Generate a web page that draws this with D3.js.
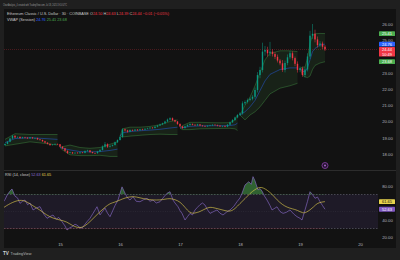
<!DOCTYPE html>
<html>
<head>
<meta charset="utf-8">
<script src="https://cdn.jsdelivr.net/npm/d3@7"></script>
<style>
  body { margin: 0; background: #1e1e1e; }
  svg { display: block; }
  text { font-family: "Liberation Sans", Arial, sans-serif; }
</style>
</head>
<body>
<svg id="chart" width="400" height="260"></svg>
<script>
// ---- data ----
// hourly candles, first one closes at Jul 14 02:00 UTC
var candleStartHour = 2;
var firstOpen = 18.55;
var closes = [
  18.62,18.75,18.95,19.12,19.02,19.05,18.98,19.03,19.00,18.96,19.02,18.97,18.98,18.90,18.86,18.78,18.70,18.62,18.55,18.58,18.62,18.60,
  18.45,18.35,18.20,18.06,18.10,18.04,18.08,18.05,18.10,18.07,18.18,18.22,18.12,18.06,18.05,18.15,18.25,18.45,18.60,18.45,18.50,18.55,18.72,18.86,
  19.05,19.52,19.45,19.37,19.48,19.44,19.50,19.46,19.52,19.50,19.55,19.58,19.62,19.60,19.68,19.75,19.82,19.89,20.00,20.12,20.20,20.08,20.00,19.85,
  19.70,19.60,19.70,19.78,19.85,19.80,19.76,19.82,19.75,19.72,19.70,19.74,19.76,19.80,19.78,19.74,19.70,19.72,19.68,19.80,19.95,20.09,20.25,20.40,
  20.50,21.12,21.20,21.32,21.40,21.52,21.94,22.86,23.17,24.30,24.40,24.20,24.30,24.15,23.98,23.75,23.58,23.17,23.60,23.95,24.20,23.90,23.55,23.17,
  23.27,22.86,23.20,24.00,25.28,25.40,25.05,24.70,24.80,24.60,24.44
];
// wick lengths in cents above / below the body
var wickUp = [
  3,4,5,6,4,3,4,3,3,4,3,2,3,3,2,3,3,2,4,3,3,2,
  2,3,3,2,4,3,2,3,3,2,5,4,3,2,3,4,5,8,14,6,4,3,5,4,
  4,6,5,4,3,3,4,3,3,4,3,4,3,4,3,4,5,4,5,6,6,5,4,3,
  4,3,4,5,4,3,3,4,3,3,4,3,4,3,3,3,4,3,4,5,5,6,5,6,
  8,12,10,9,8,10,15,18,20,55,25,20,60,15,12,14,10,20,15,18,14,12,10,15,
  12,10,15,20,30,60,25,18,15,12,10
];
var wickDown = [
  4,3,3,4,5,3,4,3,4,3,3,4,3,3,4,3,4,3,5,3,3,4,
  4,5,5,6,3,4,3,3,4,3,3,4,5,3,4,3,3,4,5,8,5,4,3,3,
  3,5,8,6,4,4,3,4,3,4,3,3,3,4,3,4,3,4,4,3,5,6,5,6,
  5,6,4,3,4,4,3,3,4,4,3,3,3,4,3,4,4,5,3,3,3,4,4,5,
  6,8,10,9,8,10,12,15,20,15,25,20,18,15,14,12,12,12,15,14,12,14,15,16,
  14,11,15,12,15,20,18,15,12,14,10
];

// session VWAP and its band, hours since Jul 14 00:00 UTC
var vwapHour = [2,6,12,18,23, 24,25,28,32,36,40,44,47, 48,49,52,56,60,64,68,71,
  72,73,76,80,84,88,92,94,95, 96,98,100,102,104,106,108,112,116,119, 120,121,122,123,124,125,126,128,130];
var vwapMid = [18.7,18.95,19.0,18.95,18.9, 18.4,18.35,18.25,18.15,18.13,18.15,18.22,18.3,
  19.1,19.3,19.38,19.43,19.47,19.52,19.6,19.65, 19.6,19.62,19.7,19.73,19.74,19.74,19.75,19.8,19.9,
  20.4,20.6,20.9,21.3,21.9,22.5,22.9,23.2,23.3,23.3, 23.27,23.1,23.05,23.3,23.8,24.3,24.5,24.7,24.76];
var vwapUpper = [18.9,19.25,19.2,19.2,19.2, 18.4,18.45,18.55,18.4,18.35,18.4,18.6,18.75,
  19.1,19.55,19.65,19.65,19.7,19.8,20.0,20.1, 19.6,19.75,19.95,19.95,19.93,19.92,19.93,20.1,20.4,
  20.4,21.0,21.5,22.2,23.0,23.8,24.2,24.35,24.35,24.3, 23.27,23.35,23.35,23.9,24.8,25.3,25.4,25.42,25.41];
var vwapLower = [18.5,18.6,18.75,18.65,18.55, 18.4,18.25,17.95,17.9,17.9,17.92,17.85,17.85,
  19.1,19.05,19.1,19.15,19.2,19.22,19.2,19.2, 19.6,19.5,19.5,19.55,19.56,19.57,19.58,19.55,19.45,
  20.4,20.1,20.4,20.6,20.9,21.3,21.7,22.05,22.2,22.35, 23.27,22.85,22.75,22.7,22.8,23.2,23.45,23.6,23.68];

// RSI(14) and its moving average, [hour, value]
var rsiPoints = [[1,60],[2,64],[3,70],[4,74],[4.8,76.5],[6,68],[7,66],[8,59.6],[9,62],[10,63.5],[11,58],[12,60],
  [13.2,51.8],[14.5,54],[16,55.7],[17.5,47],[18.8,42],[20,44],[21.2,45.9],[22.5,41],[23.5,43],[24.8,38],[26,33],
  [26.8,28.2],[28,31],[28.8,32],[30,35],[30.8,34],[32,31],[32.8,30.6],[34,35],[34.8,38],[36,42],[37.2,47.8],
  [38.8,55.6],[40,46],[41,50],[42,54],[43,48],[44,43.9],[45.2,51.7],[46,57],[47.2,63.5],[48.8,79],[50,71.6],
  [51,66],[52,63.5],[53.2,67.4],[54.5,62],[56,61.5],[57.5,64],[58.8,65.5],[60,62],[61.2,63.5],[62.5,60],[64,61.5],
  [65.5,67],[66.8,71.4],[68,73.3],[69.2,63.5],[70,60],[71.2,55.6],[72,51],[72.8,47.8],[74,40],[75,44],[76,47.8],
  [77,46],[78,51.8],[79,55],[80,58],[81,60],[82,57.6],[83,52],[84,47.8],[85.5,50],[86.8,51.8],[88,48],[89.2,45.9],
  [90.5,49],[92,51.8],[93.5,56],[94.8,61.5],[96,66],[96.8,71.4],[98,81.2],[99.5,85],[100.5,82],[101.2,91],[102,86],
  [103.2,75.3],[104,77],[104.8,74],[105.8,68],[106.8,63.5],[108,57],[108.8,51.8],[110,54],[110.8,55.5],[112,50],
  [113.2,47.8],[114.5,49],[116,51.8],[117.5,47],[118.8,43.9],[120,42],[120.8,40],[122,51.8],[123,62],[124,73.3],
  [125,70],[126,65.5],[127,67],[128,61.5],[129,57],[130,52.63]];
var rsiSmaPoints = [[1,53.7],[4,59.6],[8,64.3],[10.8,61.5],[13,57],[16,51.8],[18.5,46],[21.2,42],[24,40],[26.8,38],
  [29,33],[32,30.2],[34,33],[36,38],[38,44],[40,49.8],[42,55],[44,59.6],[46,61],[48,63.5],[50,66],[53.2,68.2],
  [56,66],[58.8,64.3],[61,63.5],[64,63.5],[66,64.5],[68,65.5],[70,64],[72,61.5],[74,55],[76,47.8],[78,48],[80,49.8],
  [82,53],[84,55.6],[86,54],[88,52.6],[90,51],[92,49.8],[94,53],[96,59.6],[98,65],[100,71.4],[102,76],[104,79],
  [105.5,77.5],[106.8,75.3],[109,70],[110.8,63.5],[113,58],[114.8,55],[117,53],[118.8,51.8],[121.2,47.8],[122.5,49],
  [124,51.8],[125.5,55.5],[126.8,59.6],[128.5,61],[130,61.65]];

var priceTicks = [18, 19, 20, 21, 22, 23, 25, 26];
var rsiTicks = [20, 40, 80];
var dayTicks = [15, 16, 17, 18, 19, 20];
var legendTitle = "Ethereum Classic / U.S. Dollar · 30 · COINBASE";
var ohlcLabels = ["O", "H", "L", "C"];
var ohlcValues = ["24.50", "24.63", "24.39", "24.44"];
var changeText = "−0.01 (−0.05%)";
var countdown = "10:49";

// ---- layout ----
var plotLeft = 4, plotRight = 378, mainTop = 9, mainBottom = 170, rsiBottom = 241;
var t0 = Date.UTC(2025, 6, 14);
function hourToDate(h) { return new Date(t0 + h * 3600e3); }

var x = d3.scaleUtc().domain([hourToDate(0), hourToDate(144)]).range([0, 360]);
var y = d3.scaleLinear().domain([18, 26]).range([154, 24]);
var yr = d3.scaleLinear().domain([20, 80]).range([237, 186]);

var up = "#089981", down = "#f23645";
var svg = d3.select("#chart");

// frame + panel
svg.append("rect").attr("width", 400).attr("height", 260).attr("fill", "#1f1f1f");
svg.append("rect").attr("x", plotLeft).attr("y", mainTop).attr("width", 392).attr("height", 239).attr("fill", "#121212");

var defs = svg.append("defs");
defs.append("clipPath").attr("id", "clipMain").append("rect")
  .attr("x", plotLeft).attr("y", mainTop).attr("width", plotRight - plotLeft).attr("height", mainBottom - mainTop);
defs.append("clipPath").attr("id", "clipRsi").append("rect")
  .attr("x", plotLeft).attr("y", mainBottom).attr("width", plotRight - plotLeft).attr("height", rsiBottom - mainBottom);
defs.append("clipPath").attr("id", "clipOver").append("rect")
  .attr("x", plotLeft).attr("y", mainBottom).attr("width", plotRight - plotLeft).attr("height", yr(70) - mainBottom);
defs.append("clipPath").attr("id", "clipUnder").append("rect")
  .attr("x", plotLeft).attr("y", yr(30)).attr("width", plotRight - plotLeft).attr("height", rsiBottom - yr(30));

// header text
svg.append("text").attr("x", 3).attr("y", 5.5).attr("font-size", 3).attr("fill", "#9a9a9a")
  .attr("textLength", 64).attr("lengthAdjust", "spacingAndGlyphs")
  .text("ChartAnalysis_4 created with TradingView.com, Jul 18, 2025 19:10 UTC");

// ---- main pane ----
var main = svg.append("g").attr("clip-path", "url(#clipMain)");

// vwap band per session
var bandPts = vwapHour.map(function (h, i) {
  return {h: h, s: Math.floor(h / 24), mid: vwapMid[i], hi: vwapUpper[i], lo: vwapLower[i]};
});
var sessions = d3.groups(bandPts, function (d) { return d.s; });

var bandArea = d3.area()
  .x(function (d) { return x(hourToDate(d.h)); })
  .y0(function (d) { return y(d.lo); })
  .y1(function (d) { return y(d.hi); });
function bandLine(key) {
  return d3.line().x(function (d) { return x(hourToDate(d.h)); }).y(function (d) { return y(d[key]); });
}

sessions.forEach(function (s) {
  var pts = s[1];
  main.append("path").attr("d", bandArea(pts)).attr("fill", "rgba(76,175,80,0.1)");
  main.append("path").attr("d", bandLine("hi")(pts)).attr("fill", "none").attr("stroke", "#4caf50").attr("stroke-width", 0.5).attr("stroke-opacity", 0.7);
  main.append("path").attr("d", bandLine("lo")(pts)).attr("fill", "none").attr("stroke", "#4caf50").attr("stroke-width", 0.5).attr("stroke-opacity", 0.7);
  main.append("path").attr("d", bandLine("mid")(pts)).attr("fill", "none").attr("stroke", "#2962ff").attr("stroke-width", 0.5).attr("stroke-opacity", 0.85);
});

// price line
var lastClose = closes[closes.length - 1];
main.append("line").attr("x1", plotLeft).attr("x2", plotRight).attr("y1", y(lastClose)).attr("y2", y(lastClose))
  .attr("stroke", down).attr("stroke-width", 0.5).attr("stroke-dasharray", "1,1").attr("opacity", 0.6);

// candles
var candles = closes.map(function (c, i) {
  var o = i == 0 ? firstOpen : closes[i - 1];
  return {h: candleStartHour + i, o: o, c: c,
    hi: Math.max(o, c) + wickUp[i] / 100, lo: Math.min(o, c) - wickDown[i] / 100};
});
var cg = main.selectAll("g.candle").data(candles).enter().append("g").attr("class", "candle");
cg.append("line")
  .attr("x1", function (d) { return x(hourToDate(d.h)); })
  .attr("x2", function (d) { return x(hourToDate(d.h)); })
  .attr("y1", function (d) { return y(d.hi); })
  .attr("y2", function (d) { return y(d.lo); })
  .attr("stroke", function (d) { return d.c >= d.o ? up : down; })
  .attr("stroke-width", 0.5);
cg.append("rect")
  .attr("x", function (d) { return x(hourToDate(d.h)) - 0.7; })
  .attr("width", 1.4)
  .attr("y", function (d) { return y(Math.max(d.o, d.c)); })
  .attr("height", function (d) { return Math.max(0.5, Math.abs(y(d.o) - y(d.c))); })
  .attr("fill", function (d) { return d.c >= d.o ? up : down; });

// events marker
svg.append("circle").attr("cx", 325).attr("cy", 165.5).attr("r", 3)
  .attr("fill", "#21132b").attr("stroke", "#8e44ad").attr("stroke-width", 0.8);
svg.append("circle").attr("cx", 325).attr("cy", 165.5).attr("r", 1)
  .attr("fill", "#a760c9");

// legend
var leg = svg.append("text").attr("x", 7).attr("y", 15).attr("font-size", 3.8).attr("fill", "#c9c9c9");
leg.append("tspan").text(legendTitle + "  ");
ohlcLabels.forEach(function (l, i) {
  leg.append("tspan").attr("fill", "#c9c9c9").text(l);
  leg.append("tspan").attr("fill", down).text(ohlcValues[i] + " ");
});
leg.append("tspan").attr("fill", down).text(changeText);

var leg2 = svg.append("text").attr("x", 7).attr("y", 20.5).attr("font-size", 3.8).attr("fill", "#c9c9c9");
leg2.append("tspan").text("VWAP (Session)  ");
leg2.append("tspan").attr("fill", "#2962ff").text(vwapMid[vwapMid.length - 1].toFixed(2) + "  ");
leg2.append("tspan").attr("fill", "#4caf50").text(vwapUpper[vwapUpper.length - 1].toFixed(2) + "  ");
leg2.append("tspan").attr("fill", "#4caf50").text(vwapLower[vwapLower.length - 1].toFixed(2));

// price axis
var yAxis = svg.append("g").attr("transform", "translate(" + plotRight + ",0)")
  .call(d3.axisRight(y).tickValues(priceTicks).tickFormat(d3.format(".2f")).tickSize(0));
yAxis.select(".domain").remove();
yAxis.selectAll("text").attr("x", 9.5).attr("text-anchor", "middle").attr("font-size", 4.2)
  .attr("fill", "#b2b5be").attr("font-family", "Liberation Sans, Arial, sans-serif");

function tag(val, yy, bg, fg, sub) {
  var h = sub ? 9.6 : 4.8;
  svg.append("rect").attr("x", 379).attr("y", yy - 2.4).attr("width", 16).attr("height", h).attr("rx", 0.6).attr("fill", bg);
  svg.append("text").attr("x", 387).attr("y", yy + 1.5).attr("text-anchor", "middle").attr("font-size", 4).attr("fill", fg).text(val);
  if (sub) svg.append("text").attr("x", 387).attr("y", yy + 6.3).attr("text-anchor", "middle").attr("font-size", 4).attr("fill", fg).text(sub);
}
tag(vwapUpper[vwapUpper.length - 1].toFixed(2), y(vwapUpper[vwapUpper.length - 1]), "#4caf50", "#ffffff");
tag(vwapMid[vwapMid.length - 1].toFixed(2), y(vwapMid[vwapMid.length - 1]), "#2962ff", "#ffffff");
tag(lastClose.toFixed(2), y(lastClose), down, "#ffffff", countdown);
tag(vwapLower[vwapLower.length - 1].toFixed(2), y(vwapLower[vwapLower.length - 1]), "#4caf50", "#ffffff");

// pane separator
svg.append("line").attr("x1", plotLeft).attr("x2", 396).attr("y1", mainBottom + 0.5).attr("y2", mainBottom + 0.5)
  .attr("stroke", "#2c2c2c").attr("stroke-width", 1);

// ---- RSI pane ----
var rg = svg.append("g").attr("clip-path", "url(#clipRsi)");
rg.append("rect").attr("x", plotLeft).attr("width", plotRight - plotLeft + 2)
  .attr("y", yr(70)).attr("height", yr(30) - yr(70)).attr("fill", "rgba(126,87,194,0.12)");
[70, 30].forEach(function (v) {
  rg.append("line").attr("x1", plotLeft).attr("x2", plotRight + 2).attr("y1", yr(v)).attr("y2", yr(v))
    .attr("stroke", "#787b86").attr("stroke-width", 0.5).attr("stroke-dasharray", "1.5,1.5");
});
rg.append("line").attr("x1", plotLeft).attr("x2", plotRight + 2).attr("y1", yr(50)).attr("y2", yr(50))
  .attr("stroke", "#787b86").attr("stroke-width", 0.4).attr("stroke-dasharray", "0.8,1.5").attr("opacity", 0.4);

var rx = function (d) { return x(hourToDate(d[0])); };
rg.append("path").attr("clip-path", "url(#clipOver)")
  .attr("d", d3.area().x(rx).y0(yr(70)).y1(function (d) { return yr(d[1]); })(rsiPoints))
  .attr("fill", "rgba(76,175,80,0.5)");
rg.append("path").attr("clip-path", "url(#clipUnder)")
  .attr("d", d3.area().x(rx).y0(yr(30)).y1(function (d) { return yr(d[1]); })(rsiPoints))
  .attr("fill", "rgba(242,54,69,0.5)");
rg.append("path").attr("d", d3.line().x(rx).y(function (d) { return yr(d[1]); })(rsiPoints))
  .attr("fill", "none").attr("stroke", "#8e6fd1").attr("stroke-width", 0.6);
rg.append("path").attr("d", d3.line().curve(d3.curveBasis).x(rx).y(function (d) { return yr(d[1]); })(rsiSmaPoints))
  .attr("fill", "none").attr("stroke", "#e8d44d").attr("stroke-width", 0.6);

var rsiLast = rsiPoints[rsiPoints.length - 1][1], smaLast = rsiSmaPoints[rsiSmaPoints.length - 1][1];
var rleg = svg.append("text").attr("x", 5).attr("y", 176).attr("font-size", 3.8).attr("fill", "#c9c9c9");
rleg.append("tspan").text("RSI (14, close)  ");
rleg.append("tspan").attr("fill", "#8e6fd1").text(rsiLast.toFixed(2) + "  ");
rleg.append("tspan").attr("fill", "#e8d44d").text(smaLast.toFixed(2));

var rAxis = svg.append("g").attr("transform", "translate(" + plotRight + ",0)")
  .call(d3.axisRight(yr).tickValues(rsiTicks).tickFormat(d3.format(".2f")).tickSize(0));
rAxis.select(".domain").remove();
rAxis.selectAll("text").attr("x", 9.5).attr("text-anchor", "middle").attr("font-size", 4.2)
  .attr("fill", "#b2b5be").attr("font-family", "Liberation Sans, Arial, sans-serif");
tag(smaLast.toFixed(2), yr(smaLast), "#e8d44d", "#131313");
tag(rsiLast.toFixed(2), yr(rsiLast), "#7e57c2", "#ffffff");

// time axis
var xAxis = svg.append("g").attr("transform", "translate(0," + rsiBottom + ")")
  .call(d3.axisBottom(x).tickValues(dayTicks.map(function (d) { return hourToDate((d - 14) * 24); }))
    .tickFormat(d3.utcFormat("%-d")).tickSize(0).tickPadding(2));
xAxis.select(".domain").remove();
xAxis.selectAll("text").attr("font-size", 4.2).attr("fill", "#b2b5be").attr("font-family", "Liberation Sans, Arial, sans-serif");

// footer
svg.append("text").attr("x", 3).attr("y", 255).attr("font-size", 4.6).attr("font-weight", "bold").attr("fill", "#d1d4dc").text("TV");
svg.append("text").attr("x", 10.5).attr("y", 254.8).attr("font-size", 3.8).attr("fill", "#b8b8b8").text("TradingView");
</script>
</body>
</html>
